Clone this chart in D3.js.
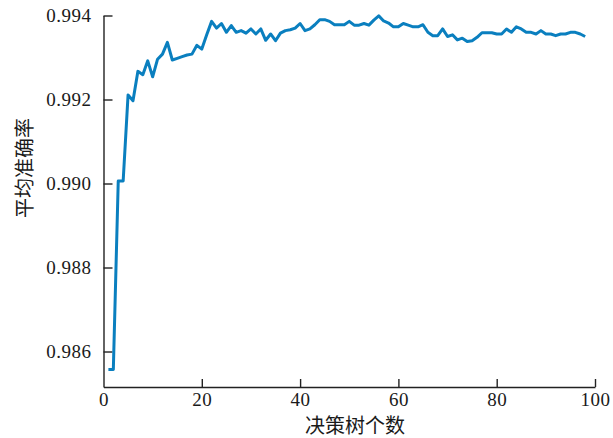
<!DOCTYPE html>
<html>
<head>
<meta charset="utf-8">
<script src="https://cdn.jsdelivr.net/npm/d3@7"></script>
<style>
  html, body { margin: 0; padding: 0; background: #fff; }
  svg { display: block; }
  .tick text { font-family: "Liberation Serif", "Times New Roman", serif; font-size: 19px; fill: #1a1a1a; letter-spacing: 0.5px; }
  .axis-title { font-family: "Noto Sans CJK SC", sans-serif; font-size: 20px; fill: #1a1a1a; }
</style>
</head>
<body>
<svg id="chart" width="613" height="438"></svg>
<script>
// Number of decision trees in the forest
const treeCounts = d3.range(1, 99);

// Mean accuracy for each forest size
const meanAccuracy = [
  0.98557, 0.98557, 0.99006, 0.99006, 0.99211, 0.99197, 0.99267, 0.99259, 0.99292, 0.99254,
  0.99296, 0.99308, 0.99336, 0.99294, 0.99298, 0.99302, 0.99306, 0.99308, 0.99329, 0.99320,
  0.99354, 0.99386, 0.99370, 0.99381, 0.99360, 0.99376, 0.99360, 0.99364, 0.99358, 0.99368,
  0.99356, 0.99368, 0.99341, 0.99356, 0.99340, 0.99358, 0.99364, 0.99366, 0.99370, 0.99381,
  0.99364, 0.99368, 0.99378, 0.99390, 0.99390, 0.99386, 0.99378, 0.99378, 0.99378, 0.99386,
  0.99377, 0.99377, 0.99381, 0.99377, 0.99389, 0.99399, 0.99387, 0.99382, 0.99373, 0.99373,
  0.99381, 0.99377, 0.99373, 0.99373, 0.99378, 0.99360, 0.99352, 0.99352, 0.99368, 0.99350,
  0.99354, 0.99342, 0.99346, 0.99338, 0.99340, 0.99348, 0.99359, 0.99359, 0.99359, 0.99356,
  0.99356, 0.99368, 0.99360, 0.99373, 0.99368, 0.99360, 0.99360, 0.99356, 0.99364, 0.99356,
  0.99356, 0.99352, 0.99356, 0.99356, 0.99360, 0.99360, 0.99356, 0.99350
];

const xTicks = [0, 20, 40, 60, 80, 100];
const yTicks = [0.986, 0.988, 0.990, 0.992, 0.994];

const xTitle = "决策树个数";
const yTitle = "平均准确率";

const svg = d3.select("#chart");

const plot = { left: 103.5, right: 595, top: 15.5, bottom: 387 };

const x = d3.scaleLinear().domain([0, 100]).range([plot.left, plot.right]);
const y = d3.scaleLinear().domain([0.985155, 0.994]).range([plot.bottom, plot.top]);

const axisColor = "#222";

// Bottom axis with inward ticks
const gx = svg.append("g")
  .attr("transform", `translate(0,${plot.bottom})`)
  .call(d3.axisBottom(x).tickValues(xTicks).tickFormat(d3.format("d"))
    .tickSizeInner(-8).tickSizeOuter(0).tickPadding(6));

// Left axis with inward ticks
const gy = svg.append("g")
  .attr("transform", `translate(${plot.left},0)`)
  .call(d3.axisLeft(y).tickValues(yTicks).tickFormat(d3.format(".3f"))
    .tickSizeInner(-9).tickSizeOuter(0).tickPadding(12));

[gx, gy].forEach(g => {
  g.select(".domain").attr("stroke", axisColor).attr("stroke-width", 1.4);
  g.selectAll(".tick line").attr("stroke", axisColor).attr("stroke-width", 1.4);
  g.selectAll(".tick text").attr("fill", "#1a1a1a");
});
gx.selectAll(".tick").filter(d => d === 0).select("line").remove();

// Accuracy curve
const line = d3.line()
  .x((d, i) => x(treeCounts[i]))
  .y(d => y(d));

svg.append("path")
  .datum(meanAccuracy)
  .attr("fill", "none")
  .attr("stroke", "#0a7fbf")
  .attr("stroke-width", 3)
  .attr("stroke-linejoin", "round")
  .attr("d", line);

// Axis titles
svg.append("text")
  .attr("class", "axis-title")
  .attr("x", 355)
  .attr("y", 433)
  .attr("text-anchor", "middle")
  .text(xTitle);

svg.append("text")
  .attr("class", "axis-title")
  .attr("transform", "translate(32,168) rotate(-90)")
  .attr("text-anchor", "middle")
  .text(yTitle);
</script>
</body>
</html>
